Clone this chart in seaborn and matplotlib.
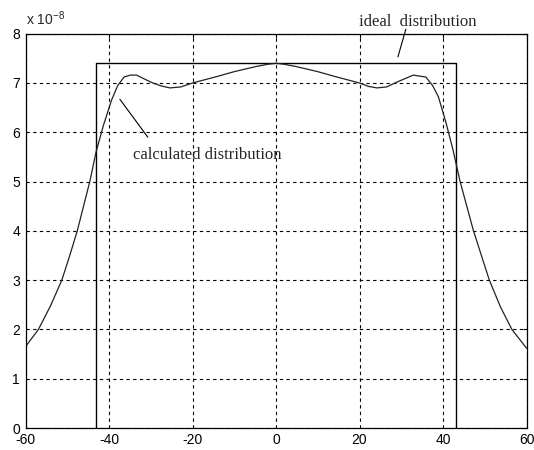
import seaborn as sns
import pandas as pd
import matplotlib.pyplot as plt

# calculated distribution (units of 1e-8)
pos = [-60, -56.9, -54, -51.3, -49.4, -47.6, -46.1, -44.6, -43.1, -41.3, -39.4,
       -37.9, -36.4, -34.9, -33.4, -31.5, -29.5, -27.5, -25.4, -22.8, -20,
       -14.2, -10, -5, -2, 0, 2, 5, 10, 14.2, 20, 22.2, 24.2, 26.5, 29,
       32.9, 35.9, 37.5, 38.9, 40.7, 42.4, 44.1, 45.7, 47.3, 49.2, 51.1,
       53.8, 56.5, 60]
calc = [1.65, 2.0, 2.48, 3.0, 3.5, 4.0, 4.5, 5.0, 5.6, 6.15, 6.65,
        6.95, 7.12, 7.16, 7.16, 7.08, 7.0, 6.94, 6.9, 6.92, 7.0,
        7.13, 7.23, 7.33, 7.38, 7.4, 7.38, 7.33, 7.23, 7.13, 7.0, 6.93, 6.9, 6.92, 7.02,
        7.16, 7.12, 6.95, 6.72, 6.2, 5.64, 5.0, 4.5, 4.0, 3.5, 3.0,
        2.45, 2.0, 1.62]

# ideal distribution (rectangle)
ideal_x = [-43, -43, 43, 43]
ideal_y = [0, 7.4, 7.4, 0]

xticks = [-60, -40, -20, 0, 20, 40, 60]
yticks = [0, 1, 2, 3, 4, 5, 6, 7, 8]

df_calc = pd.DataFrame({'x': pos, 'y': calc})
df_ideal = pd.DataFrame({'x': ideal_x, 'y': ideal_y})

sns.set_style("white")
plt.rcParams['font.family'] = ['Liberation Sans', 'DejaVu Sans']
plt.rcParams['mathtext.default'] = 'regular'
plt.rcParams['axes.unicode_minus'] = False

fig = plt.figure(figsize=(5.34, 4.5), dpi=100)
ax = fig.add_axes([25.5 / 534, 1 - 428 / 450, 501 / 534, (428 - 33.7) / 450])

sns.lineplot(x='x', y='y', data=df_ideal, sort=False, estimator=None,
             color='black', linewidth=1.0, ax=ax)
sns.lineplot(x='x', y='y', data=df_calc, sort=False, estimator=None,
             color='#222222', linewidth=0.9, ax=ax)

ax.set_xlim(-60, 60)
ax.set_ylim(0, 8)
ax.set_xticks(xticks)
ax.set_yticks(yticks)
ax.set_xlabel('')
ax.set_ylabel('')
ax.grid(True, color='black', linestyle=(0, (3, 3)), linewidth=0.8)
ax.tick_params(direction='in', length=3, width=0.8, labelsize=10, colors='black',
               top=True, right=True)
ax.tick_params(axis='y', pad=4)
ax.tick_params(axis='x', pad=3.5)
for s in ax.spines.values():
    s.set_color('black')
    s.set_linewidth(0.9)

ax.text(0, 1.015, r'x 10$^{-8}$', transform=ax.transAxes, fontsize=10, ha='left', va='bottom')

# annotations
serif = ['Liberation Serif', 'DejaVu Serif']
ax.text(34.0, 8.24, 'ideal  distribution', family=serif, fontsize=12,
        ha='center', va='center', clip_on=False)
ax.plot([31.1, 29.2], [8.09, 7.53], color='black', linewidth=0.8, clip_on=False)
ax.text(-34.25, 5.54, 'calculated distribution', family=serif, fontsize=12,
        ha='left', va='center')
ax.plot([-37.4, -30.7], [6.67, 5.90], color='black', linewidth=0.8)

plt.savefig('out.png', dpi=100)
